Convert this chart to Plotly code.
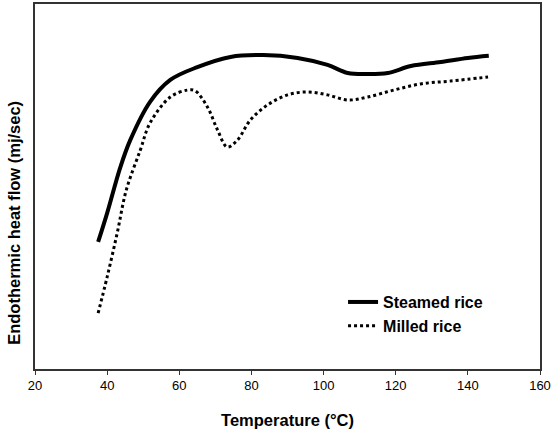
import plotly.graph_objects as go

# Data (y in arbitrary units, 0-100)
steamed_temp = [37.5, 40.0, 43.6, 46.4, 51.9, 57.5, 65.0, 74.2, 83.3, 92.8, 101.1,
                106.7, 112.2, 117.8, 124.2, 132.5, 140.0, 145.8]
steamed_flow = [34.8, 42.7, 55.1, 62.7, 73.2, 79.2, 82.7, 85.5, 86.0, 85.2, 83.3,
                81.1, 80.8, 81.1, 83.0, 84.1, 85.2, 85.8]

milled_temp = [37.5, 40.0, 42.8, 45.3, 49.2, 51.9, 57.5, 62.2, 64.4, 67.8, 70.6,
               73.3, 76.1, 79.7, 84.4, 90.0, 95.6, 101.1, 106.7, 112.2, 119.4,
               126.9, 135.3, 145.6]
milled_flow = [15.3, 25.2, 37.3, 49.0, 60.0, 67.4, 74.5, 76.4, 76.2, 71.8, 65.5,
               60.8, 62.7, 68.2, 72.3, 75.1, 75.9, 75.1, 73.7, 74.5, 76.4,
               78.1, 78.9, 80.0]

x_ticks = [20, 40, 60, 80, 100, 120, 140, 160]

FONT = "Liberation Sans, Arial, sans-serif"

fig = go.Figure()
fig.add_trace(go.Scatter(x=steamed_temp, y=steamed_flow, mode="lines",
                         name="<b>Steamed rice</b>",
                         line=dict(color="black", width=4, shape="spline", smoothing=1.0)))
fig.add_trace(go.Scatter(x=milled_temp, y=milled_flow, mode="lines",
                         name="<b>Milled rice</b>",
                         line=dict(color="black", width=3, dash="dot", shape="spline", smoothing=1.0)))

fig.update_layout(
    width=551, height=434,
    margin=dict(l=35, r=11, t=4, b=65),
    paper_bgcolor="white", plot_bgcolor="white",
    font=dict(family=FONT, color="black", size=12),
    legend=dict(x=0.61, y=0.23, xanchor="left", yanchor="top",
                bgcolor="rgba(0,0,0,0)", font=dict(size=16, family=FONT),
                tracegroupgap=0),
    annotations=[dict(text="<b>Endothermic heat flow (mj/sec)</b>", xref="paper", yref="paper",
                      x=-0.042, y=0.4, xanchor="center", yanchor="middle",
                      textangle=-90, showarrow=False, font=dict(size=16.5, family=FONT))],
)
fig.update_xaxes(range=[20, 160], tickvals=x_ticks, ticks="outside", ticklen=4,
                 tickcolor="#333", showline=True, linecolor="#333", linewidth=1.5,
                 mirror=True, showgrid=False, zeroline=False, automargin=False,
                 title=dict(text="<b>Temperature (°C)</b>", font=dict(size=16.5, family=FONT), standoff=22),
                 tickfont=dict(size=13, family=FONT))
fig.update_yaxes(range=[0, 100], showticklabels=False, ticks="", showline=True,
                 linecolor="#333", linewidth=1.5, mirror=True, showgrid=False, zeroline=False,
                 automargin=False)

fig.write_html("out.html", config={"displayModeBar": False},
               post_script="document.body.style.margin='0';")
